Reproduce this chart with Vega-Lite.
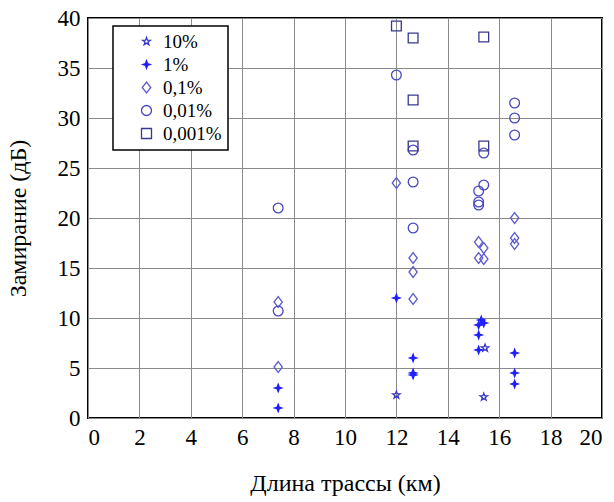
{
  "$schema": "https://vega.github.io/schema/vega-lite/v6.json",
  "width": 514,
  "height": 400,
  "autosize": "none",
  "padding": {"left": 88, "top": 18, "right": 12, "bottom": 84},
  "background": "white",
  "config": {
    "view": {"stroke": "black", "strokeWidth": 2},
    "font": "Liberation Serif",
    "axis": {
      "labelFont": "Liberation Serif",
      "titleFont": "Liberation Serif",
      "labelFontSize": 23,
      "titleFontSize": 24,
      "titleFontWeight": "normal",
      "labelColor": "black",
      "titleColor": "black",
      "gridColor": "#8a8a8a",
      "gridWidth": 1,
      "gridOpacity": 1,
      "domain": false,
      "ticks": false,
      "labelPadding": 8
    },
    "legend": {
      "orient": "none",
      "legendX": 25,
      "legendY": 8,
      "strokeColor": "black",
      "strokeWidth": 1.5,
      "fillColor": "white",
      "padding": 6,
      "labelFont": "Liberation Serif",
      "labelFontSize": 19,
      "labelColor": "black",
      "rowPadding": 3,
      "symbolOffset": 18,
      "labelOffset": 7,
      "symbolStrokeWidth": 1.3
    }
  },
  "data": {
    "values": [
      {"km": 12.0, "db": 2.3, "p": "10%"},
      {"km": 15.45, "db": 7.0, "p": "10%"},
      {"km": 15.4, "db": 2.1, "p": "10%"},
      {"km": 7.4, "db": 3.0, "p": "1%"},
      {"km": 7.4, "db": 1.0, "p": "1%"},
      {"km": 12.0, "db": 12.0, "p": "1%"},
      {"km": 12.65, "db": 6.0, "p": "1%"},
      {"km": 12.65, "db": 4.5, "p": "1%"},
      {"km": 12.65, "db": 4.3, "p": "1%"},
      {"km": 15.3, "db": 9.8, "p": "1%"},
      {"km": 15.4, "db": 9.5, "p": "1%"},
      {"km": 15.2, "db": 9.3, "p": "1%"},
      {"km": 15.2, "db": 8.3, "p": "1%"},
      {"km": 15.2, "db": 6.8, "p": "1%"},
      {"km": 16.6, "db": 6.5, "p": "1%"},
      {"km": 16.6, "db": 4.5, "p": "1%"},
      {"km": 16.6, "db": 3.4, "p": "1%"},
      {"km": 7.4, "db": 11.6, "p": "0,1%"},
      {"km": 7.4, "db": 5.1, "p": "0,1%"},
      {"km": 12.0, "db": 23.5, "p": "0,1%"},
      {"km": 12.65, "db": 16.0, "p": "0,1%"},
      {"km": 12.65, "db": 14.6, "p": "0,1%"},
      {"km": 12.65, "db": 11.9, "p": "0,1%"},
      {"km": 15.2, "db": 17.6, "p": "0,1%"},
      {"km": 15.4, "db": 17.0, "p": "0,1%"},
      {"km": 15.2, "db": 16.0, "p": "0,1%"},
      {"km": 15.4, "db": 15.9, "p": "0,1%"},
      {"km": 16.6, "db": 20.0, "p": "0,1%"},
      {"km": 16.6, "db": 18.0, "p": "0,1%"},
      {"km": 16.6, "db": 17.4, "p": "0,1%"},
      {"km": 7.4, "db": 21.0, "p": "0,01%"},
      {"km": 7.4, "db": 10.7, "p": "0,01%"},
      {"km": 12.0, "db": 34.3, "p": "0,01%"},
      {"km": 12.65, "db": 26.8, "p": "0,01%"},
      {"km": 12.65, "db": 23.6, "p": "0,01%"},
      {"km": 12.65, "db": 19.0, "p": "0,01%"},
      {"km": 15.4, "db": 26.5, "p": "0,01%"},
      {"km": 15.4, "db": 23.3, "p": "0,01%"},
      {"km": 15.2, "db": 22.7, "p": "0,01%"},
      {"km": 15.2, "db": 21.6, "p": "0,01%"},
      {"km": 15.2, "db": 21.3, "p": "0,01%"},
      {"km": 16.6, "db": 31.5, "p": "0,01%"},
      {"km": 16.6, "db": 30.0, "p": "0,01%"},
      {"km": 16.6, "db": 28.3, "p": "0,01%"},
      {"km": 12.0, "db": 39.2, "p": "0,001%"},
      {"km": 12.65, "db": 38.0, "p": "0,001%"},
      {"km": 12.65, "db": 31.8, "p": "0,001%"},
      {"km": 12.65, "db": 27.2, "p": "0,001%"},
      {"km": 15.4, "db": 38.1, "p": "0,001%"},
      {"km": 15.4, "db": 27.2, "p": "0,001%"}
    ]
  },
  "mark": {"type": "point", "size": 95, "strokeWidth": 1.3, "opacity": 1},
  "encoding": {
    "x": {
      "field": "km",
      "type": "quantitative",
      "scale": {"domain": [0, 20], "nice": false, "zero": false},
      "axis": {"values": [0, 2, 4, 6, 8, 10, 12, 14, 16, 18, 20], "title": "Длина трассы (км)", "titleY": 65, "titleBaseline": "middle"}
    },
    "y": {
      "field": "db",
      "type": "quantitative",
      "scale": {"domain": [0, 40], "nice": false},
      "axis": {"values": [0, 5, 10, 15, 20, 25, 30, 35, 40], "title": "Замирание (дБ)", "titleX": -70, "titleY": 200, "titleBaseline": "middle"}
    },
    "shape": {
      "field": "p",
      "type": "nominal",
      "scale": {
        "domain": ["10%", "1%", "0,1%", "0,01%", "0,001%"],
        "range": [
          "M0,-0.8L0.19,-0.26L0.76,-0.25L0.30,0.10L0.47,0.65L0,0.32L-0.47,0.65L-0.30,0.10L-0.76,-0.25L-0.19,-0.26Z",
          "M0,-0.75L0.2,-0.2L0.75,0L0.2,0.2L0,0.75L-0.2,0.2L-0.75,0L-0.2,-0.2Z",
          "M0,-1.1L0.85,0L0,1.1L-0.85,0Z",
          "circle",
          "square"
        ]
      },
      "legend": {"title": null}
    },
    "stroke": {
      "field": "p",
      "type": "nominal",
      "scale": {
        "domain": ["10%", "1%", "0,1%", "0,01%", "0,001%"],
        "range": ["#3434c8", "#1e1eff", "#5c5cd0", "#4848c0", "#383890"]
      },
      "legend": {"title": null}
    },
    "fill": {
      "field": "p",
      "type": "nominal",
      "scale": {
        "domain": ["10%", "1%", "0,1%", "0,01%", "0,001%"],
        "range": ["transparent", "#1e1eff", "transparent", "transparent", "transparent"]
      },
      "legend": {"title": null}
    }
  }
}
